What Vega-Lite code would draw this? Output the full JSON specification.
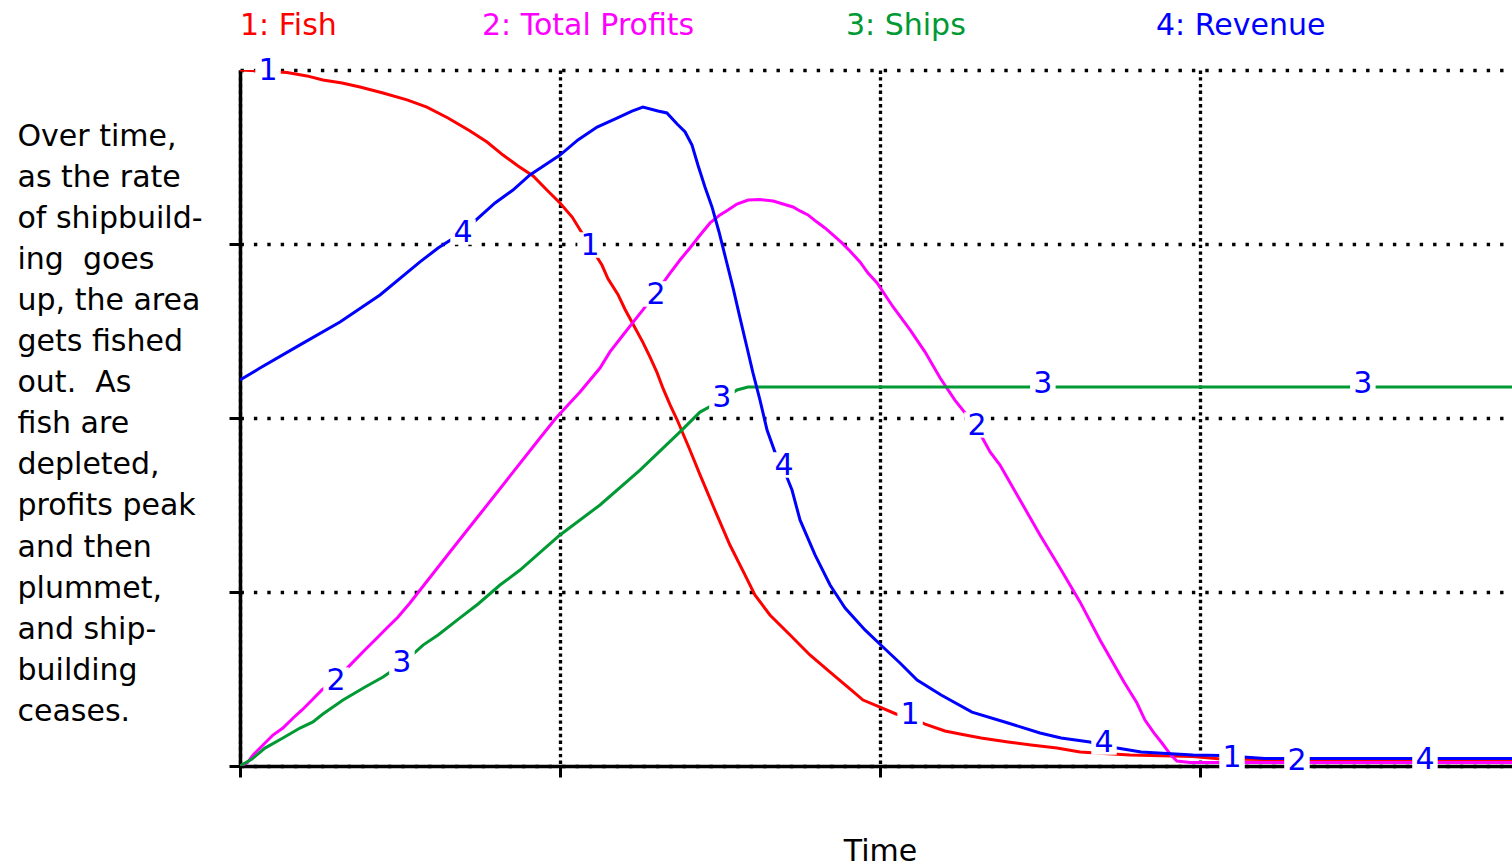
{
  "$schema": "https://vega.github.io/schema/vega-lite/v6.json",
  "width": 1272,
  "height": 696,
  "autosize": "none",
  "padding": {"left": 240, "top": 70, "right": 0, "bottom": 100},
  "background": "white",
  "config": {
    "view": {"stroke": null},
    "font": "DejaVu Sans"
  },
  "datasets": {
    "series": [
      {"s": "1: Fish", "t": 0, "v": 4.0},
      {"s": "1: Fish", "t": 0.147, "v": 3.986},
      {"s": "1: Fish", "t": 0.209, "v": 3.966},
      {"s": "1: Fish", "t": 0.259, "v": 3.943},
      {"s": "1: Fish", "t": 0.319, "v": 3.925},
      {"s": "1: Fish", "t": 0.375, "v": 3.902},
      {"s": "1: Fish", "t": 0.447, "v": 3.868},
      {"s": "1: Fish", "t": 0.522, "v": 3.828},
      {"s": "1: Fish", "t": 0.584, "v": 3.787},
      {"s": "1: Fish", "t": 0.65, "v": 3.724},
      {"s": "1: Fish", "t": 0.719, "v": 3.649},
      {"s": "1: Fish", "t": 0.772, "v": 3.586},
      {"s": "1: Fish", "t": 0.822, "v": 3.511},
      {"s": "1: Fish", "t": 0.869, "v": 3.448},
      {"s": "1: Fish", "t": 0.916, "v": 3.391},
      {"s": "1: Fish", "t": 0.959, "v": 3.31},
      {"s": "1: Fish", "t": 1.0, "v": 3.236},
      {"s": "1: Fish", "t": 1.038, "v": 3.155},
      {"s": "1: Fish", "t": 1.063, "v": 3.08},
      {"s": "1: Fish", "t": 1.094, "v": 2.989},
      {"s": "1: Fish", "t": 1.131, "v": 2.879},
      {"s": "1: Fish", "t": 1.15, "v": 2.8},
      {"s": "1: Fish", "t": 1.181, "v": 2.71},
      {"s": "1: Fish", "t": 1.203, "v": 2.625},
      {"s": "1: Fish", "t": 1.228, "v": 2.54},
      {"s": "1: Fish", "t": 1.259, "v": 2.435},
      {"s": "1: Fish", "t": 1.281, "v": 2.351},
      {"s": "1: Fish", "t": 1.303, "v": 2.262},
      {"s": "1: Fish", "t": 1.322, "v": 2.17},
      {"s": "1: Fish", "t": 1.344, "v": 2.075},
      {"s": "1: Fish", "t": 1.366, "v": 1.99},
      {"s": "1: Fish", "t": 1.406, "v": 1.816},
      {"s": "1: Fish", "t": 1.438, "v": 1.672},
      {"s": "1: Fish", "t": 1.484, "v": 1.471},
      {"s": "1: Fish", "t": 1.531, "v": 1.27},
      {"s": "1: Fish", "t": 1.578, "v": 1.098},
      {"s": "1: Fish", "t": 1.609, "v": 0.983},
      {"s": "1: Fish", "t": 1.656, "v": 0.868},
      {"s": "1: Fish", "t": 1.719, "v": 0.753},
      {"s": "1: Fish", "t": 1.781, "v": 0.638},
      {"s": "1: Fish", "t": 1.844, "v": 0.54},
      {"s": "1: Fish", "t": 1.906, "v": 0.443},
      {"s": "1: Fish", "t": 1.947, "v": 0.379},
      {"s": "1: Fish", "t": 2.0, "v": 0.339},
      {"s": "1: Fish", "t": 2.05, "v": 0.299},
      {"s": "1: Fish", "t": 2.097, "v": 0.276},
      {"s": "1: Fish", "t": 2.141, "v": 0.241},
      {"s": "1: Fish", "t": 2.203, "v": 0.201},
      {"s": "1: Fish", "t": 2.25, "v": 0.184},
      {"s": "1: Fish", "t": 2.316, "v": 0.161},
      {"s": "1: Fish", "t": 2.4, "v": 0.138},
      {"s": "1: Fish", "t": 2.472, "v": 0.121},
      {"s": "1: Fish", "t": 2.553, "v": 0.103},
      {"s": "1: Fish", "t": 2.625, "v": 0.08},
      {"s": "1: Fish", "t": 2.7, "v": 0.072},
      {"s": "1: Fish", "t": 2.781, "v": 0.063},
      {"s": "1: Fish", "t": 2.978, "v": 0.055},
      {"s": "1: Fish", "t": 3.066, "v": 0.04},
      {"s": "1: Fish", "t": 3.203, "v": 0.037},
      {"s": "1: Fish", "t": 3.469, "v": 0.034},
      {"s": "1: Fish", "t": 3.975, "v": 0.034},

      {"s": "2: Total Profits", "t": 0, "v": 0},
      {"s": "2: Total Profits", "t": 0.022, "v": 0.017},
      {"s": "2: Total Profits", "t": 0.041, "v": 0.063},
      {"s": "2: Total Profits", "t": 0.072, "v": 0.121},
      {"s": "2: Total Profits", "t": 0.103, "v": 0.178},
      {"s": "2: Total Profits", "t": 0.134, "v": 0.218},
      {"s": "2: Total Profits", "t": 0.166, "v": 0.276},
      {"s": "2: Total Profits", "t": 0.194, "v": 0.322},
      {"s": "2: Total Profits", "t": 0.225, "v": 0.379},
      {"s": "2: Total Profits", "t": 0.256, "v": 0.437},
      {"s": "2: Total Profits", "t": 0.3, "v": 0.5},
      {"s": "2: Total Profits", "t": 0.344, "v": 0.58},
      {"s": "2: Total Profits", "t": 0.384, "v": 0.655},
      {"s": "2: Total Profits", "t": 0.428, "v": 0.736},
      {"s": "2: Total Profits", "t": 0.459, "v": 0.793},
      {"s": "2: Total Profits", "t": 0.494, "v": 0.856},
      {"s": "2: Total Profits", "t": 0.531, "v": 0.937},
      {"s": "2: Total Profits", "t": 0.656, "v": 1.23},
      {"s": "2: Total Profits", "t": 0.75, "v": 1.448},
      {"s": "2: Total Profits", "t": 0.844, "v": 1.667},
      {"s": "2: Total Profits", "t": 0.9375, "v": 1.885},
      {"s": "2: Total Profits", "t": 0.9875, "v": 2.0},
      {"s": "2: Total Profits", "t": 1.0625, "v": 2.149},
      {"s": "2: Total Profits", "t": 1.125, "v": 2.287},
      {"s": "2: Total Profits", "t": 1.156, "v": 2.38},
      {"s": "2: Total Profits", "t": 1.194, "v": 2.47},
      {"s": "2: Total Profits", "t": 1.228, "v": 2.55},
      {"s": "2: Total Profits", "t": 1.259, "v": 2.621},
      {"s": "2: Total Profits", "t": 1.3, "v": 2.72},
      {"s": "2: Total Profits", "t": 1.344, "v": 2.833},
      {"s": "2: Total Profits", "t": 1.375, "v": 2.908},
      {"s": "2: Total Profits", "t": 1.406, "v": 2.977},
      {"s": "2: Total Profits", "t": 1.438, "v": 3.052},
      {"s": "2: Total Profits", "t": 1.469, "v": 3.121},
      {"s": "2: Total Profits", "t": 1.5, "v": 3.167},
      {"s": "2: Total Profits", "t": 1.525, "v": 3.195},
      {"s": "2: Total Profits", "t": 1.553, "v": 3.23},
      {"s": "2: Total Profits", "t": 1.588, "v": 3.253},
      {"s": "2: Total Profits", "t": 1.625, "v": 3.256},
      {"s": "2: Total Profits", "t": 1.666, "v": 3.247},
      {"s": "2: Total Profits", "t": 1.697, "v": 3.23},
      {"s": "2: Total Profits", "t": 1.728, "v": 3.213},
      {"s": "2: Total Profits", "t": 1.75, "v": 3.19},
      {"s": "2: Total Profits", "t": 1.775, "v": 3.167},
      {"s": "2: Total Profits", "t": 1.803, "v": 3.126},
      {"s": "2: Total Profits", "t": 1.828, "v": 3.092},
      {"s": "2: Total Profits", "t": 1.853, "v": 3.052},
      {"s": "2: Total Profits", "t": 1.881, "v": 3.006},
      {"s": "2: Total Profits", "t": 1.906, "v": 2.96},
      {"s": "2: Total Profits", "t": 1.9375, "v": 2.897},
      {"s": "2: Total Profits", "t": 1.9625, "v": 2.833},
      {"s": "2: Total Profits", "t": 1.991, "v": 2.776},
      {"s": "2: Total Profits", "t": 2.016, "v": 2.707},
      {"s": "2: Total Profits", "t": 2.041, "v": 2.638},
      {"s": "2: Total Profits", "t": 2.094, "v": 2.506},
      {"s": "2: Total Profits", "t": 2.141, "v": 2.379},
      {"s": "2: Total Profits", "t": 2.188, "v": 2.23},
      {"s": "2: Total Profits", "t": 2.234, "v": 2.103},
      {"s": "2: Total Profits", "t": 2.303, "v": 1.943},
      {"s": "2: Total Profits", "t": 2.344, "v": 1.805},
      {"s": "2: Total Profits", "t": 2.375, "v": 1.73},
      {"s": "2: Total Profits", "t": 2.4375, "v": 1.529},
      {"s": "2: Total Profits", "t": 2.5, "v": 1.328},
      {"s": "2: Total Profits", "t": 2.5625, "v": 1.138},
      {"s": "2: Total Profits", "t": 2.625, "v": 0.943},
      {"s": "2: Total Profits", "t": 2.6875, "v": 0.724},
      {"s": "2: Total Profits", "t": 2.7625, "v": 0.483},
      {"s": "2: Total Profits", "t": 2.803, "v": 0.362},
      {"s": "2: Total Profits", "t": 2.828, "v": 0.264},
      {"s": "2: Total Profits", "t": 2.856, "v": 0.19},
      {"s": "2: Total Profits", "t": 2.881, "v": 0.132},
      {"s": "2: Total Profits", "t": 2.909, "v": 0.063},
      {"s": "2: Total Profits", "t": 2.928, "v": 0.029},
      {"s": "2: Total Profits", "t": 2.969, "v": 0.02},
      {"s": "2: Total Profits", "t": 3.975, "v": 0.02},

      {"s": "3: Ships", "t": 0, "v": 0},
      {"s": "3: Ships", "t": 0.0375, "v": 0.04},
      {"s": "3: Ships", "t": 0.078, "v": 0.103},
      {"s": "3: Ships", "t": 0.134, "v": 0.161},
      {"s": "3: Ships", "t": 0.1875, "v": 0.218},
      {"s": "3: Ships", "t": 0.228, "v": 0.253},
      {"s": "3: Ships", "t": 0.259, "v": 0.299},
      {"s": "3: Ships", "t": 0.322, "v": 0.379},
      {"s": "3: Ships", "t": 0.391, "v": 0.454},
      {"s": "3: Ships", "t": 0.447, "v": 0.511},
      {"s": "3: Ships", "t": 0.506, "v": 0.586},
      {"s": "3: Ships", "t": 0.572, "v": 0.695},
      {"s": "3: Ships", "t": 0.619, "v": 0.753},
      {"s": "3: Ships", "t": 0.6875, "v": 0.851},
      {"s": "3: Ships", "t": 0.744, "v": 0.931},
      {"s": "3: Ships", "t": 0.8125, "v": 1.04},
      {"s": "3: Ships", "t": 0.875, "v": 1.126},
      {"s": "3: Ships", "t": 1.0, "v": 1.328},
      {"s": "3: Ships", "t": 1.125, "v": 1.5},
      {"s": "3: Ships", "t": 1.25, "v": 1.701},
      {"s": "3: Ships", "t": 1.375, "v": 1.92},
      {"s": "3: Ships", "t": 1.4375, "v": 2.034},
      {"s": "3: Ships", "t": 1.506, "v": 2.103},
      {"s": "3: Ships", "t": 1.553, "v": 2.161},
      {"s": "3: Ships", "t": 1.5875, "v": 2.178},
      {"s": "3: Ships", "t": 3.975, "v": 2.178},

      {"s": "4: Revenue", "t": 0, "v": 2.218},
      {"s": "4: Revenue", "t": 0.0625, "v": 2.287},
      {"s": "4: Revenue", "t": 0.1875, "v": 2.42},
      {"s": "4: Revenue", "t": 0.3125, "v": 2.552},
      {"s": "4: Revenue", "t": 0.4375, "v": 2.707},
      {"s": "4: Revenue", "t": 0.5625, "v": 2.897},
      {"s": "4: Revenue", "t": 0.619, "v": 2.977},
      {"s": "4: Revenue", "t": 0.697, "v": 3.069},
      {"s": "4: Revenue", "t": 0.744, "v": 3.149},
      {"s": "4: Revenue", "t": 0.797, "v": 3.236},
      {"s": "4: Revenue", "t": 0.853, "v": 3.31},
      {"s": "4: Revenue", "t": 0.906, "v": 3.397},
      {"s": "4: Revenue", "t": 0.953, "v": 3.454},
      {"s": "4: Revenue", "t": 1.0, "v": 3.511},
      {"s": "4: Revenue", "t": 1.056, "v": 3.598},
      {"s": "4: Revenue", "t": 1.116, "v": 3.672},
      {"s": "4: Revenue", "t": 1.178, "v": 3.724},
      {"s": "4: Revenue", "t": 1.225, "v": 3.764},
      {"s": "4: Revenue", "t": 1.259, "v": 3.787},
      {"s": "4: Revenue", "t": 1.306, "v": 3.764},
      {"s": "4: Revenue", "t": 1.334, "v": 3.753},
      {"s": "4: Revenue", "t": 1.366, "v": 3.69},
      {"s": "4: Revenue", "t": 1.391, "v": 3.644},
      {"s": "4: Revenue", "t": 1.4125, "v": 3.569},
      {"s": "4: Revenue", "t": 1.431, "v": 3.454},
      {"s": "4: Revenue", "t": 1.453, "v": 3.328},
      {"s": "4: Revenue", "t": 1.475, "v": 3.213},
      {"s": "4: Revenue", "t": 1.497, "v": 3.069},
      {"s": "4: Revenue", "t": 1.519, "v": 2.908},
      {"s": "4: Revenue", "t": 1.541, "v": 2.747},
      {"s": "4: Revenue", "t": 1.5625, "v": 2.575},
      {"s": "4: Revenue", "t": 1.584, "v": 2.408},
      {"s": "4: Revenue", "t": 1.603, "v": 2.259},
      {"s": "4: Revenue", "t": 1.625, "v": 2.103},
      {"s": "4: Revenue", "t": 1.647, "v": 1.931},
      {"s": "4: Revenue", "t": 1.675, "v": 1.787},
      {"s": "4: Revenue", "t": 1.7, "v": 1.701},
      {"s": "4: Revenue", "t": 1.725, "v": 1.586},
      {"s": "4: Revenue", "t": 1.75, "v": 1.414},
      {"s": "4: Revenue", "t": 1.797, "v": 1.213},
      {"s": "4: Revenue", "t": 1.844, "v": 1.04},
      {"s": "4: Revenue", "t": 1.891, "v": 0.908},
      {"s": "4: Revenue", "t": 1.953, "v": 0.782},
      {"s": "4: Revenue", "t": 2.0125, "v": 0.678},
      {"s": "4: Revenue", "t": 2.0625, "v": 0.592},
      {"s": "4: Revenue", "t": 2.116, "v": 0.494},
      {"s": "4: Revenue", "t": 2.191, "v": 0.408},
      {"s": "4: Revenue", "t": 2.2875, "v": 0.31},
      {"s": "4: Revenue", "t": 2.4, "v": 0.247},
      {"s": "4: Revenue", "t": 2.5, "v": 0.19},
      {"s": "4: Revenue", "t": 2.566, "v": 0.161},
      {"s": "4: Revenue", "t": 2.656, "v": 0.138},
      {"s": "4: Revenue", "t": 2.741, "v": 0.103},
      {"s": "4: Revenue", "t": 2.816, "v": 0.08},
      {"s": "4: Revenue", "t": 2.978, "v": 0.063},
      {"s": "4: Revenue", "t": 3.066, "v": 0.06},
      {"s": "4: Revenue", "t": 3.203, "v": 0.043},
      {"s": "4: Revenue", "t": 3.975, "v": 0.043}
    ],
    "markers": [
      {"s": "1: Fish", "n": "1", "t": 0.0875, "v": 4.0},
      {"s": "1: Fish", "n": "1", "t": 1.094, "v": 2.994},
      {"s": "1: Fish", "n": "1", "t": 2.094, "v": 0.299},
      {"s": "1: Fish", "n": "1", "t": 3.1, "v": 0.052},
      {"s": "2: Total Profits", "n": "2", "t": 0.3, "v": 0.494},
      {"s": "2: Total Profits", "n": "2", "t": 1.3, "v": 2.713},
      {"s": "2: Total Profits", "n": "2", "t": 2.303, "v": 1.96},
      {"s": "2: Total Profits", "n": "2", "t": 3.303, "v": 0.034},
      {"s": "3: Ships", "n": "3", "t": 0.506, "v": 0.598},
      {"s": "3: Ships", "n": "3", "t": 1.506, "v": 2.121},
      {"s": "3: Ships", "n": "3", "t": 2.509, "v": 2.201},
      {"s": "3: Ships", "n": "3", "t": 3.509, "v": 2.201},
      {"s": "4: Revenue", "n": "4", "t": 0.697, "v": 3.069},
      {"s": "4: Revenue", "n": "4", "t": 1.7, "v": 1.73},
      {"s": "4: Revenue", "n": "4", "t": 2.7, "v": 0.138},
      {"s": "4: Revenue", "n": "4", "t": 3.703, "v": 0.04}
    ]
  },
  "encoding": {
    "x": {
      "field": "t",
      "type": "quantitative",
      "scale": {"domain": [0, 3.975], "nice": false, "zero": false},
      "axis": {
        "title": "Time",
        "titleFont": "DejaVu Sans",
        "titleFontSize": 30,
        "titleFontWeight": "normal",
        "titleColor": "black",
        "titleBaseline": "alphabetic",
        "titleY": 94,
        "titleX": 640,
        "values": [0, 1, 2, 3],
        "labels": false,
        "grid": true,
        "gridColor": "black",
        "gridOpacity": 1,
        "gridWidth": 3.3,
        "gridDash": [3.4, 3.3],
        "ticks": true,
        "tickSize": 11,
        "tickWidth": 3,
        "tickColor": "black",
        "domainColor": "black",
        "domainWidth": 3.5
      }
    },
    "y": {
      "field": "v",
      "type": "quantitative",
      "scale": {"domain": [0, 4], "nice": false},
      "axis": {
        "title": ["Over time,", "as the rate", "of shipbuild-", "ing\u00a0\u00a0goes", "up, the area", "gets fished", "out.\u00a0\u00a0As", "fish are", "depleted,", "profits peak", "and then", "plummet,", "and ship-", "building", "ceases."],
        "titleAngle": 0,
        "titleAlign": "left",
        "titleBaseline": "alphabetic",
        "titleX": -223,
        "titleY": 75,
        "titleLineHeight": 41.1,
        "titleFont": "DejaVu Sans",
        "titleFontSize": 30,
        "titleFontWeight": "normal",
        "titleColor": "black",
        "values": [0, 1, 2, 3, 4],
        "labels": false,
        "grid": true,
        "gridColor": "black",
        "gridOpacity": 1,
        "gridWidth": 3.3,
        "gridDash": [3.4, 10],
        "ticks": true,
        "tickSize": 11,
        "tickWidth": 3,
        "tickColor": {"condition": {"test": "datum.value == 4", "value": "transparent"}, "value": "black"},
        "domainColor": "black",
        "domainWidth": 3.5
      }
    }
  },
  "layer": [
    {
      "data": {"name": "series"},
      "mark": {"type": "line", "strokeWidth": 3, "interpolate": "linear", "clip": true},
      "encoding": {
        "color": {
          "field": "s",
          "type": "nominal",
          "scale": {
            "domain": ["1: Fish", "2: Total Profits", "3: Ships", "4: Revenue"],
            "range": ["#FF0000", "#FF00FF", "#009933", "#0000FF"]
          },
          "legend": {
            "title": null,
            "orient": "none",
            "legendX": -30,
            "legendY": -59,
            "direction": "horizontal",
            "padding": 0,
            "symbolSize": 0,
            "symbolOpacity": 0,
            "symbolStrokeWidth": 0,
            "labelOffset": 0,
            "labelFont": "DejaVu Sans",
            "labelFontSize": 30,
            "labelLimit": 500,
            "labelColor": {"expr": "scale('color', datum.value)"},
            "labelExpr": "datum.value == '4: Revenue' ? '\u200b\u2003\u2002' + datum.label : (datum.value == '3: Ships' ? '\u200b\u2009' + datum.label : datum.label)",
            "columnPadding": 115
          }
        },
        "order": {"field": "t", "type": "quantitative"}
      }
    },
    {
      "data": {"name": "markers"},
      "mark": {"type": "point", "shape": "square", "filled": true, "color": "white", "opacity": 1, "size": 650, "strokeWidth": 0}
    },
    {
      "data": {"name": "markers"},
      "mark": {"type": "text", "font": "DejaVu Sans", "fontSize": 30, "color": "#0000FF", "align": "center", "baseline": "middle", "dy": 1},
      "encoding": {
        "text": {"field": "n", "type": "nominal"}
      }
    }
  ]
}
